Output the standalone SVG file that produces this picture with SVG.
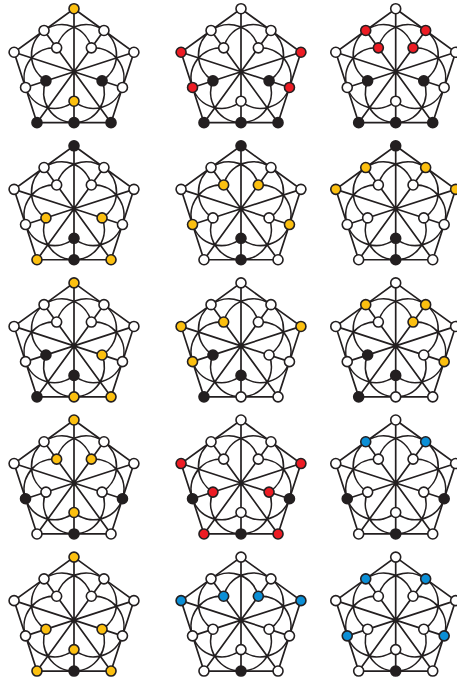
<svg xmlns="http://www.w3.org/2000/svg" width="457" height="682" viewBox="0 0 457 682">
<style>
.e{fill:none;stroke:#231f20;stroke-width:1.7}
circle{stroke:#231f20;stroke-width:1.6}
.w{fill:#fff}.k{fill:#231f20}.y{fill:#fcc010}.r{fill:#ed1c24}.b{fill:#0b8fd6}
</style>
<defs>
<g id="graph" class="e">
<path d="M0-63L29.96-41.24L59.92-19.47L48.47 15.75L37.03 50.97L0 50.97L-37.03 50.97L-48.47 15.75L-59.92-19.47L-29.96-41.24Z"/>
<path d="M0 0L0-63M0 0L59.92-19.47M0 0L37.03 50.97M0 0L-37.03 50.97M0 0L-59.92-19.47M0 0L29.96-41.24M0 0L48.47 15.75M0 0L0 50.97M0 0L-48.47 15.75M0 0L-29.96-41.24"/>
<path d="M29.96-41.24A30.3 30.3 0 0 1 28.06 9.12M29.96-41.24A30.3 30.3 0 0 0-17.34-23.87M48.47 15.75A30.3 30.3 0 0 1 0 29.5M48.47 15.75A30.3 30.3 0 0 0 17.34-23.87M0 50.97A30.3 30.3 0 0 1-28.06 9.12M0 50.97A30.3 30.3 0 0 0 28.06 9.12M-48.47 15.75A30.3 30.3 0 0 1-17.34-23.87M-48.47 15.75A30.3 30.3 0 0 0 0 29.5M-29.96-41.24A30.3 30.3 0 0 1 17.34-23.87M-29.96-41.24A30.3 30.3 0 0 0-28.06 9.12"/>
</g>
<circle id="T" r="5" cx="0" cy="-63"/><circle id="R" r="5" cx="59.92" cy="-19.47"/><circle id="BR" r="5" cx="37.03" cy="50.97"/><circle id="BL" r="5" cx="-37.03" cy="50.97"/><circle id="L" r="5" cx="-59.92" cy="-19.47"/>
<circle id="mTR" r="5" cx="29.96" cy="-41.24"/><circle id="mR" r="5" cx="48.47" cy="15.75"/><circle id="mB" r="5" cx="0" cy="50.97"/><circle id="mL" r="5" cx="-48.47" cy="15.75"/><circle id="mTL" r="5" cx="-29.96" cy="-41.24"/>
<circle id="iTR" r="5" cx="17.34" cy="-23.87"/><circle id="iR" r="5" cx="28.06" cy="9.12"/><circle id="iB" r="5" cx="0" cy="29.5"/><circle id="iL" r="5" cx="-28.06" cy="9.12"/><circle id="iTL" r="5" cx="-17.34" cy="-23.87"/>
</defs>
<g id="connectors">
<use href="#graph" x="74" y="71.7"/><use href="#graph" x="241" y="71.7"/><use href="#graph" x="395.7" y="71.7"/>
<use href="#graph" x="74" y="208.8"/><use href="#graph" x="241" y="208.8"/><use href="#graph" x="395.7" y="208.8"/>
<use href="#graph" x="74" y="345.9"/><use href="#graph" x="241" y="345.9"/><use href="#graph" x="395.7" y="345.9"/>
<use href="#graph" x="74" y="483"/><use href="#graph" x="241" y="483"/><use href="#graph" x="395.7" y="483"/>
<use href="#graph" x="74" y="620.1"/><use href="#graph" x="241" y="620.1"/><use href="#graph" x="395.7" y="620.1"/>
</g>
<g id="panel-1-1" transform="translate(74,71.7)">
<g id="n11T" class="y"><use href="#T"/></g><g id="n11R" class="w"><use href="#R"/></g><g id="n11BR" class="k"><use href="#BR"/></g><g id="n11BL" class="k"><use href="#BL"/></g><g id="n11L" class="w"><use href="#L"/></g>
<g id="n11mTR" class="w"><use href="#mTR"/></g><g id="n11mR" class="w"><use href="#mR"/></g><g id="n11mB" class="k"><use href="#mB"/></g><g id="n11mL" class="w"><use href="#mL"/></g><g id="n11mTL" class="w"><use href="#mTL"/></g>
<g id="n11iTR" class="w"><use href="#iTR"/></g><g id="n11iR" class="k"><use href="#iR"/></g><g id="n11iB" class="y"><use href="#iB"/></g><g id="n11iL" class="k"><use href="#iL"/></g><g id="n11iTL" class="w"><use href="#iTL"/></g>
</g>
<g id="panel-1-2" transform="translate(241,71.7)">
<g id="n12T" class="w"><use href="#T"/></g><g id="n12R" class="r"><use href="#R"/></g><g id="n12BR" class="k"><use href="#BR"/></g><g id="n12BL" class="k"><use href="#BL"/></g><g id="n12L" class="r"><use href="#L"/></g>
<g id="n12mTR" class="w"><use href="#mTR"/></g><g id="n12mR" class="r"><use href="#mR"/></g><g id="n12mB" class="k"><use href="#mB"/></g><g id="n12mL" class="r"><use href="#mL"/></g><g id="n12mTL" class="w"><use href="#mTL"/></g>
<g id="n12iTR" class="w"><use href="#iTR"/></g><g id="n12iR" class="k"><use href="#iR"/></g><g id="n12iB" class="w"><use href="#iB"/></g><g id="n12iL" class="k"><use href="#iL"/></g><g id="n12iTL" class="w"><use href="#iTL"/></g>
</g>
<g id="panel-1-3" transform="translate(395.7,71.7)">
<g id="n13T" class="w"><use href="#T"/></g><g id="n13R" class="w"><use href="#R"/></g><g id="n13BR" class="k"><use href="#BR"/></g><g id="n13BL" class="k"><use href="#BL"/></g><g id="n13L" class="w"><use href="#L"/></g>
<g id="n13mTR" class="r"><use href="#mTR"/></g><g id="n13mR" class="w"><use href="#mR"/></g><g id="n13mB" class="k"><use href="#mB"/></g><g id="n13mL" class="w"><use href="#mL"/></g><g id="n13mTL" class="r"><use href="#mTL"/></g>
<g id="n13iTR" class="r"><use href="#iTR"/></g><g id="n13iR" class="k"><use href="#iR"/></g><g id="n13iB" class="w"><use href="#iB"/></g><g id="n13iL" class="k"><use href="#iL"/></g><g id="n13iTL" class="r"><use href="#iTL"/></g>
</g>
<g id="panel-2-1" transform="translate(74,208.8)">
<g id="n21T" class="k"><use href="#T"/></g><g id="n21R" class="w"><use href="#R"/></g><g id="n21BR" class="y"><use href="#BR"/></g><g id="n21BL" class="y"><use href="#BL"/></g><g id="n21L" class="w"><use href="#L"/></g>
<g id="n21mTR" class="w"><use href="#mTR"/></g><g id="n21mR" class="w"><use href="#mR"/></g><g id="n21mB" class="k"><use href="#mB"/></g><g id="n21mL" class="w"><use href="#mL"/></g><g id="n21mTL" class="w"><use href="#mTL"/></g>
<g id="n21iTR" class="w"><use href="#iTR"/></g><g id="n21iR" class="y"><use href="#iR"/></g><g id="n21iB" class="k"><use href="#iB"/></g><g id="n21iL" class="y"><use href="#iL"/></g><g id="n21iTL" class="w"><use href="#iTL"/></g>
</g>
<g id="panel-2-2" transform="translate(241,208.8)">
<g id="n22T" class="k"><use href="#T"/></g><g id="n22R" class="w"><use href="#R"/></g><g id="n22BR" class="w"><use href="#BR"/></g><g id="n22BL" class="w"><use href="#BL"/></g><g id="n22L" class="w"><use href="#L"/></g>
<g id="n22mTR" class="w"><use href="#mTR"/></g><g id="n22mR" class="y"><use href="#mR"/></g><g id="n22mB" class="k"><use href="#mB"/></g><g id="n22mL" class="y"><use href="#mL"/></g><g id="n22mTL" class="w"><use href="#mTL"/></g>
<g id="n22iTR" class="y"><use href="#iTR"/></g><g id="n22iR" class="w"><use href="#iR"/></g><g id="n22iB" class="k"><use href="#iB"/></g><g id="n22iL" class="w"><use href="#iL"/></g><g id="n22iTL" class="y"><use href="#iTL"/></g>
</g>
<g id="panel-2-3" transform="translate(395.7,208.8)">
<g id="n23T" class="k"><use href="#T"/></g><g id="n23R" class="y"><use href="#R"/></g><g id="n23BR" class="w"><use href="#BR"/></g><g id="n23BL" class="w"><use href="#BL"/></g><g id="n23L" class="y"><use href="#L"/></g>
<g id="n23mTR" class="y"><use href="#mTR"/></g><g id="n23mR" class="w"><use href="#mR"/></g><g id="n23mB" class="k"><use href="#mB"/></g><g id="n23mL" class="w"><use href="#mL"/></g><g id="n23mTL" class="y"><use href="#mTL"/></g>
<g id="n23iTR" class="w"><use href="#iTR"/></g><g id="n23iR" class="w"><use href="#iR"/></g><g id="n23iB" class="k"><use href="#iB"/></g><g id="n23iL" class="w"><use href="#iL"/></g><g id="n23iTL" class="w"><use href="#iTL"/></g>
</g>
<g id="panel-3-1" transform="translate(74,345.9)">
<g id="n31T" class="y"><use href="#T"/></g><g id="n31R" class="w"><use href="#R"/></g><g id="n31BR" class="y"><use href="#BR"/></g><g id="n31BL" class="k"><use href="#BL"/></g><g id="n31L" class="w"><use href="#L"/></g>
<g id="n31mTR" class="w"><use href="#mTR"/></g><g id="n31mR" class="w"><use href="#mR"/></g><g id="n31mB" class="y"><use href="#mB"/></g><g id="n31mL" class="w"><use href="#mL"/></g><g id="n31mTL" class="w"><use href="#mTL"/></g>
<g id="n31iTR" class="w"><use href="#iTR"/></g><g id="n31iR" class="y"><use href="#iR"/></g><g id="n31iB" class="k"><use href="#iB"/></g><g id="n31iL" class="k"><use href="#iL"/></g><g id="n31iTL" class="w"><use href="#iTL"/></g>
</g>
<g id="panel-3-2" transform="translate(241,345.9)">
<g id="n32T" class="w"><use href="#T"/></g><g id="n32R" class="y"><use href="#R"/></g><g id="n32BR" class="w"><use href="#BR"/></g><g id="n32BL" class="k"><use href="#BL"/></g><g id="n32L" class="y"><use href="#L"/></g>
<g id="n32mTR" class="w"><use href="#mTR"/></g><g id="n32mR" class="w"><use href="#mR"/></g><g id="n32mB" class="w"><use href="#mB"/></g><g id="n32mL" class="y"><use href="#mL"/></g><g id="n32mTL" class="w"><use href="#mTL"/></g>
<g id="n32iTR" class="w"><use href="#iTR"/></g><g id="n32iR" class="w"><use href="#iR"/></g><g id="n32iB" class="k"><use href="#iB"/></g><g id="n32iL" class="k"><use href="#iL"/></g><g id="n32iTL" class="y"><use href="#iTL"/></g>
</g>
<g id="panel-3-3" transform="translate(395.7,345.9)">
<g id="n33T" class="w"><use href="#T"/></g><g id="n33R" class="w"><use href="#R"/></g><g id="n33BR" class="w"><use href="#BR"/></g><g id="n33BL" class="k"><use href="#BL"/></g><g id="n33L" class="w"><use href="#L"/></g>
<g id="n33mTR" class="y"><use href="#mTR"/></g><g id="n33mR" class="y"><use href="#mR"/></g><g id="n33mB" class="w"><use href="#mB"/></g><g id="n33mL" class="w"><use href="#mL"/></g><g id="n33mTL" class="y"><use href="#mTL"/></g>
<g id="n33iTR" class="y"><use href="#iTR"/></g><g id="n33iR" class="w"><use href="#iR"/></g><g id="n33iB" class="k"><use href="#iB"/></g><g id="n33iL" class="k"><use href="#iL"/></g><g id="n33iTL" class="w"><use href="#iTL"/></g>
</g>
<g id="panel-4-1" transform="translate(74,483)">
<g id="n41T" class="y"><use href="#T"/></g><g id="n41R" class="w"><use href="#R"/></g><g id="n41BR" class="w"><use href="#BR"/></g><g id="n41BL" class="w"><use href="#BL"/></g><g id="n41L" class="w"><use href="#L"/></g>
<g id="n41mTR" class="w"><use href="#mTR"/></g><g id="n41mR" class="k"><use href="#mR"/></g><g id="n41mB" class="k"><use href="#mB"/></g><g id="n41mL" class="k"><use href="#mL"/></g><g id="n41mTL" class="w"><use href="#mTL"/></g>
<g id="n41iTR" class="y"><use href="#iTR"/></g><g id="n41iR" class="w"><use href="#iR"/></g><g id="n41iB" class="y"><use href="#iB"/></g><g id="n41iL" class="w"><use href="#iL"/></g><g id="n41iTL" class="y"><use href="#iTL"/></g>
</g>
<g id="panel-4-2" transform="translate(241,483)">
<g id="n42T" class="w"><use href="#T"/></g><g id="n42R" class="r"><use href="#R"/></g><g id="n42BR" class="r"><use href="#BR"/></g><g id="n42BL" class="r"><use href="#BL"/></g><g id="n42L" class="r"><use href="#L"/></g>
<g id="n42mTR" class="w"><use href="#mTR"/></g><g id="n42mR" class="k"><use href="#mR"/></g><g id="n42mB" class="k"><use href="#mB"/></g><g id="n42mL" class="k"><use href="#mL"/></g><g id="n42mTL" class="w"><use href="#mTL"/></g>
<g id="n42iTR" class="w"><use href="#iTR"/></g><g id="n42iR" class="r"><use href="#iR"/></g><g id="n42iB" class="w"><use href="#iB"/></g><g id="n42iL" class="r"><use href="#iL"/></g><g id="n42iTL" class="w"><use href="#iTL"/></g>
</g>
<g id="panel-4-3" transform="translate(395.7,483)">
<g id="n43T" class="w"><use href="#T"/></g><g id="n43R" class="w"><use href="#R"/></g><g id="n43BR" class="w"><use href="#BR"/></g><g id="n43BL" class="w"><use href="#BL"/></g><g id="n43L" class="w"><use href="#L"/></g>
<g id="n43mTR" class="b"><use href="#mTR"/></g><g id="n43mR" class="k"><use href="#mR"/></g><g id="n43mB" class="k"><use href="#mB"/></g><g id="n43mL" class="k"><use href="#mL"/></g><g id="n43mTL" class="b"><use href="#mTL"/></g>
<g id="n43iTR" class="w"><use href="#iTR"/></g><g id="n43iR" class="w"><use href="#iR"/></g><g id="n43iB" class="w"><use href="#iB"/></g><g id="n43iL" class="w"><use href="#iL"/></g><g id="n43iTL" class="w"><use href="#iTL"/></g>
</g>
<g id="panel-5-1" transform="translate(74,620.1)">
<g id="n51T" class="y"><use href="#T"/></g><g id="n51R" class="w"><use href="#R"/></g><g id="n51BR" class="y"><use href="#BR"/></g><g id="n51BL" class="y"><use href="#BL"/></g><g id="n51L" class="w"><use href="#L"/></g>
<g id="n51mTR" class="w"><use href="#mTR"/></g><g id="n51mR" class="w"><use href="#mR"/></g><g id="n51mB" class="k"><use href="#mB"/></g><g id="n51mL" class="w"><use href="#mL"/></g><g id="n51mTL" class="w"><use href="#mTL"/></g>
<g id="n51iTR" class="w"><use href="#iTR"/></g><g id="n51iR" class="y"><use href="#iR"/></g><g id="n51iB" class="y"><use href="#iB"/></g><g id="n51iL" class="y"><use href="#iL"/></g><g id="n51iTL" class="w"><use href="#iTL"/></g>
</g>
<g id="panel-5-2" transform="translate(241,620.1)">
<g id="n52T" class="w"><use href="#T"/></g><g id="n52R" class="b"><use href="#R"/></g><g id="n52BR" class="w"><use href="#BR"/></g><g id="n52BL" class="w"><use href="#BL"/></g><g id="n52L" class="b"><use href="#L"/></g>
<g id="n52mTR" class="w"><use href="#mTR"/></g><g id="n52mR" class="w"><use href="#mR"/></g><g id="n52mB" class="k"><use href="#mB"/></g><g id="n52mL" class="w"><use href="#mL"/></g><g id="n52mTL" class="w"><use href="#mTL"/></g>
<g id="n52iTR" class="b"><use href="#iTR"/></g><g id="n52iR" class="w"><use href="#iR"/></g><g id="n52iB" class="w"><use href="#iB"/></g><g id="n52iL" class="w"><use href="#iL"/></g><g id="n52iTL" class="b"><use href="#iTL"/></g>
</g>
<g id="panel-5-3" transform="translate(395.7,620.1)">
<g id="n53T" class="w"><use href="#T"/></g><g id="n53R" class="w"><use href="#R"/></g><g id="n53BR" class="w"><use href="#BR"/></g><g id="n53BL" class="w"><use href="#BL"/></g><g id="n53L" class="w"><use href="#L"/></g>
<g id="n53mTR" class="b"><use href="#mTR"/></g><g id="n53mR" class="b"><use href="#mR"/></g><g id="n53mB" class="k"><use href="#mB"/></g><g id="n53mL" class="b"><use href="#mL"/></g><g id="n53mTL" class="b"><use href="#mTL"/></g>
<g id="n53iTR" class="w"><use href="#iTR"/></g><g id="n53iR" class="w"><use href="#iR"/></g><g id="n53iB" class="w"><use href="#iB"/></g><g id="n53iL" class="w"><use href="#iL"/></g><g id="n53iTL" class="w"><use href="#iTL"/></g>
</g>
</svg>
